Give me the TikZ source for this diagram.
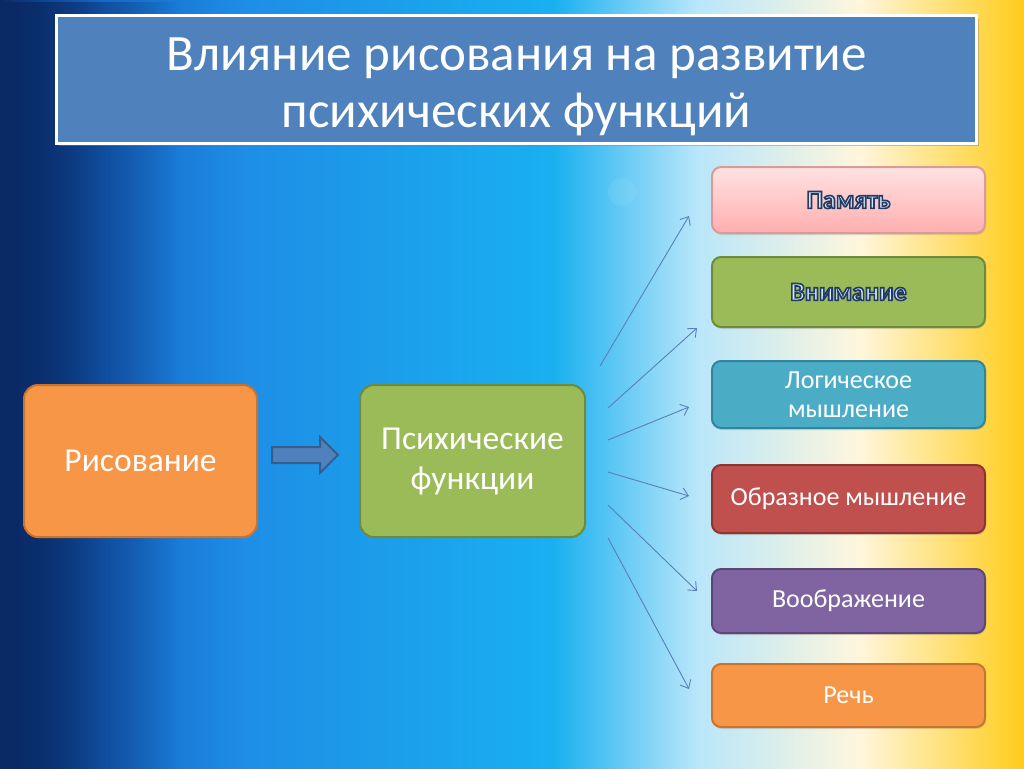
\documentclass[tikz,border=0pt]{standalone}
\usepackage{fontspec}
\setmainfont{Carlito}
\usetikzlibrary{arrows.meta,shadows,fadings}
\definecolor{deepnavy}{HTML}{0A2A66}
\definecolor{skyA}{HTML}{1668C8}
\definecolor{skyB}{HTML}{1E8EE6}
\definecolor{skyC}{HTML}{19B0F0}
\definecolor{skyD}{HTML}{B8E6FA}
\definecolor{paleY}{HTML}{FFF6DC}
\definecolor{sunY}{HTML}{FFCC1A}
\definecolor{titleblue}{HTML}{4F81BD}
\definecolor{arrowD}{HTML}{385D8A}
\definecolor{orng}{HTML}{F79646}
\definecolor{orngD}{HTML}{C8742E}
\definecolor{grn}{HTML}{9BBB59}
\definecolor{grnD}{HTML}{6F8A3C}
\definecolor{teal}{HTML}{4BACC6}
\definecolor{tealD}{HTML}{31859C}
\definecolor{rd}{HTML}{C0504D}
\definecolor{rdD}{HTML}{8E3431}
\definecolor{purp}{HTML}{8064A2}
\definecolor{purpD}{HTML}{5C4778}
\definecolor{pinkT}{HTML}{FFE2E2}
\definecolor{pinkB}{HTML}{FFAFAF}
\definecolor{pinkD}{HTML}{D99A9A}
\definecolor{lnk}{HTML}{5B7FB6}
\definecolor{lite}{HTML}{DCE6F2}
\pgfdeclarehorizontalshading{slidebg}{100bp}{color(0bp)=(deepnavy); color(25bp)=(deepnavy);
  color(30bp)=(skyA); color(37bp)=(skyB); color(52bp)=(skyC); color(59bp)=(skyD);
  color(67bp)=(paleY); color(75bp)=(sunY); color(100bp)=(sunY)}
\tikzset{
    BG/.style ={shading=slidebg},
    TB/.style ={rectangle, draw=white, line width=3pt, fill=titleblue, minimum width=920pt,
        minimum height=127pt, drop shadow={opacity=0.45,shadow xshift=2pt,shadow yshift=-3pt}},
    TT/.style ={text=white, align=center, font=\fontsize{51}{57}\selectfont},
    BX1/.style ={rectangle, rounded corners=14pt, line width=2pt, minimum height=152pt,
        text=white, align=center, font=\fontsize{33.5}{40}\selectfont},
    BX2/.style ={rectangle, rounded corners=9pt, line width=2pt, minimum width=273pt,
        minimum height=66pt, text=white, align=center, font=\fontsize{26}{29}\selectfont,
        drop shadow={opacity=0.25,shadow xshift=1pt,shadow yshift=-2pt}},
    BA/.style ={draw=arrowD, line width=2pt, fill=titleblue},
    LK/.style ={draw=lnk, line width=0.9pt, -{Straight Barb[length=7pt,width=12pt]}}}
% outlined light text (stroke + fill)
\newcommand{\outtext}[1]{\textcolor{lite}{\special{pdf:literal direct 0.12 0.23 0.40 RG 1.6 w 2 Tr}\bfseries #1\special{pdf:literal direct 0 Tr}}}

\begin{document}
\begin{tikzpicture}[x=1pt,y=-1pt]
        % background
        \fill[BG] (0,0) rectangle (1024,768);
        \fill[deepnavy, path fading=east] (0,0) rectangle (180,768);
        \fill[white, opacity=0.07] (622,192) circle[radius=14];
        % title
        \node[TB] (titlebox) at (516.5,79.5) {};
        \node[TT] (title) at (516.5,86.5) {Влияние рисования на развитие\\психических функций};
        % main boxes
        \node[BX1, fill=orng, draw=orngD, minimum width=233pt] (draw) at (140.5,461) {Рисование};
        \node[BX1, fill=grn, draw=grnD, minimum width=225pt] (psy) at (472.5,461) {Психические\\функции};
        \draw[BA] (272,447) -- (320,447) -- (320,437) -- (338,455) -- (320,473) -- (320,463) -- (272,463) -- cycle;
        % functions
        \node[BX2, top color=pinkT, bottom color=pinkB, draw=pinkD] (mem) at (848.5,200) {\outtext{Память}};
        \node[BX2, fill=grn, draw=grnD, minimum height=70pt] (att) at (848.5,292) {\outtext{Внимание}};
        \node[BX2, fill=teal, draw=tealD, minimum height=67pt] (log) at (848.5,394.5) {Логическое\\мышление};
        \node[BX2, fill=rd, draw=rdD, minimum height=68pt] (img) at (848.5,499) {Образное мышление};
        \node[BX2, fill=purp, draw=purpD, minimum height=64pt] (imag) at (848.5,601) {Воображение};
        \node[BX2, fill=orng, draw=orngD, minimum height=63pt] (speech) at (848.5,695.5) {Речь};
        % links
        \coordinate (s1) at (600,366);  \coordinate (e1) at (689,216);
        \coordinate (s2) at (608,408);  \coordinate (e2) at (697,328);
        \coordinate (s3) at (608,440);  \coordinate (e3) at (689,407);
        \coordinate (s4) at (608,472);  \coordinate (e4) at (689,496);
        \coordinate (s5) at (608,505);  \coordinate (e5) at (697,591);
        \coordinate (s6) at (608,538);  \coordinate (e6) at (689,689);
        \foreach \i in {1,...,6}
            \draw[LK] (s\i) -- (e\i);
    \end{tikzpicture}
\end{document}
